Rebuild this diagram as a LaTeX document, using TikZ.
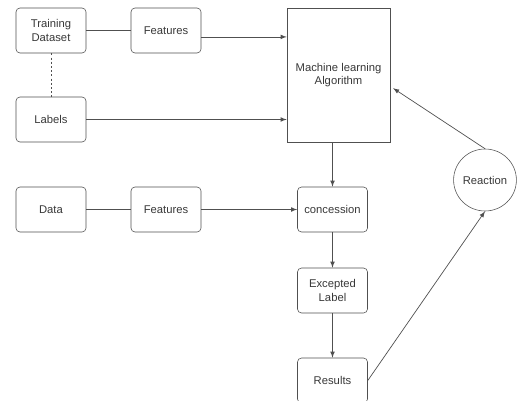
\documentclass[tikz,border=0pt]{standalone}
\usepackage{fontspec}
\setmainfont{Liberation Sans}
\usetikzlibrary{positioning, arrows, calc, shapes}
\definecolor{lineGray}{HTML}{505050}
\definecolor{textGray}{HTML}{383838}

\begin{document}
\begin{tikzpicture}[x=0.025cm, y=-0.025cm,
	block/.style={draw=lineGray, rectangle, rounded corners=0.1cm, minimum width=1.75cm,
		minimum height=1.125cm, align=center, text=textGray, font=\fontsize{8}{9.5}\selectfont},
	link/.style={draw=lineGray, line width=0.5pt},
	linkArrow/.style={link, -latex}]
	
	\useasboundingbox (0,0) rectangle (520,401);
	
	%Training side
	\node (trainingDataset) at (51,30.5) [block]{Training\\ Dataset};
	\node (featuresTop) at (166,30.5) [block]{Features};
	\node (labels) at (51,119.5) [block]{Labels};
	
	%Algorithm block
	\node (mlAlgorithm) at (338.5,75) [block, rounded corners=0pt, minimum width=2.575cm,
	minimum height=3.35cm]{Machine learning\\ Algorithm};
	
	%Prediction side
	\node (data) at (51,209.5) [block]{Data};
	\node (featuresBottom) at (166,209.5) [block]{Features};
	\node (concession) at (332.5,209.5) [block]{concession};
	\node (exceptedLabel) at (332.5,290.5) [block]{Excepted\\ Label};
	\node (results) at (332.5,380.5) [block]{Results};
	
	%Feedback
	\node (reaction) at (485,180) [block, ellipse, minimum width=1.55cm,
	minimum height=1.55cm, inner sep=0pt]{Reaction};
	
	%Links
	\draw[link] (trainingDataset) -- (featuresTop);
	\draw[linkArrow] ([yshift=-0.16cm]featuresTop.east) -- ([yshift=-0.16cm]featuresTop.east -| mlAlgorithm.west);
	\draw[link, dashed, dash pattern=on 1.5pt off 1.5pt] (trainingDataset) -- (labels);
	\draw[linkArrow] (labels) -- (labels -| mlAlgorithm.west);
	
	\draw[link] (data) -- (featuresBottom);
	\draw[linkArrow] (featuresBottom) -- (concession);
	\draw[linkArrow] (concession |- mlAlgorithm.south) -- (concession);
	\draw[linkArrow] (concession) -- (exceptedLabel);
	\draw[linkArrow] (exceptedLabel) -- (results);
	
	\draw[linkArrow] (results.east) -- (reaction.south);
	\draw[linkArrow] (reaction.north) -- ([xshift=0.07cm, yshift=-0.33cm]mlAlgorithm.east);
	
\end{tikzpicture}
\end{document}
